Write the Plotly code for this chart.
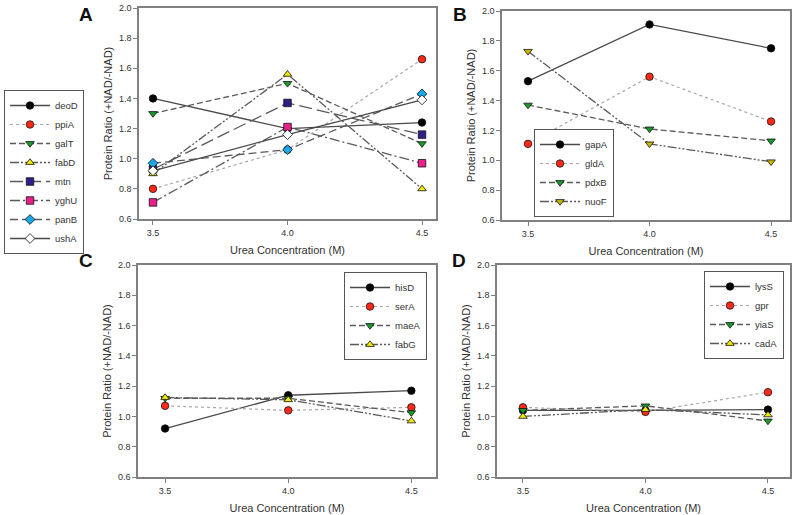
import plotly.graph_objects as go

# ---------------- data ----------------
urea = [3.5, 4.0, 4.5]

# Panel A
a_names = ["deoD", "ppiA", "galT", "fabD", "mtn", "yghU", "panB", "ushA"]
deoD = [1.40, 1.20, 1.24]
ppiA = [0.80, 1.06, 1.66]
galT = [1.30, 1.50, 1.10]
fabD = [0.90, 1.56, 0.80]
mtn = [0.93, 1.37, 1.16]
yghU = [0.71, 1.21, 0.97]
panB = [0.97, 1.06, 1.43]
ushA = [0.92, 1.16, 1.39]

# Panel B
b_names = ["gapA", "gldA", "pdxB", "nuoF"]
gapA = [1.53, 1.91, 1.75]
gldA = [1.11, 1.56, 1.26]
pdxB = [1.37, 1.21, 1.13]
nuoF = [1.73, 1.11, 0.99]

# Panel C
c_names = ["hisD", "serA", "maeA", "fabG"]
hisD = [0.92, 1.14, 1.17]
serA = [1.07, 1.04, 1.06]
maeA = [1.12, 1.12, 1.025]
fabG = [1.125, 1.11, 0.97]

# Panel D
d_names = ["lysS", "gpr", "yiaS", "cadA"]
lysS = [1.04, 1.04, 1.045]
gpr = [1.06, 1.03, 1.16]
yiaS = [1.04, 1.07, 0.97]
cadA = [1.00, 1.045, 1.01]

y_ticks = [0.6, 0.8, 1.0, 1.2, 1.4, 1.6, 1.8, 2.0]
x_ticks = [3.5, 4.0, 4.5]

# ---------------- styles ----------------
FONT = "Arial, Liberation Sans, sans-serif"
SOLID = dict(color="#4a4a4a", width=1.3, dash="solid")
DOT = dict(color="#a8a8a8", width=1.2, dash="dot")
DASH = dict(color="#5a5a5a", width=1.3, dash="6px,3px")
DADODO = dict(color="#5a5a5a", width=1.3, dash="9px,2px,2px,2px,2px,2px")
LONGDASH = dict(color="#5a5a5a", width=1.3, dash="13px,5px")
DASHDOT = dict(color="#5a5a5a", width=1.3, dash="10px,3px,2px,3px")
MEDDASH = dict(color="#5a5a5a", width=1.3, dash="8px,4px")

def mk(symbol, color):
    return dict(symbol=symbol, color=color, size=7.5, line=dict(color="#111111", width=0.8))

a_series = [deoD, ppiA, galT, fabD, mtn, yghU, panB, ushA]
a_styles = [
    (SOLID, mk("circle", "#000000")),
    (DOT, mk("circle", "#ff2a1a")),
    (DASH, mk("triangle-down", "#1a9a2a")),
    (DADODO, mk("triangle-up", "#f2ea00")),
    (LONGDASH, mk("square", "#2e1f8a")),
    (DASHDOT, mk("square", "#ec1e8c")),
    (MEDDASH, mk("diamond", "#1aa8e8")),
    (SOLID, mk("diamond", "#ffffff")),
]
b_series = [gapA, gldA, pdxB, nuoF]
b_styles = [
    (SOLID, mk("circle", "#000000")),
    (DOT, mk("circle", "#ff2a1a")),
    (DASH, mk("triangle-down", "#1a9a2a")),
    (DADODO, mk("triangle-down", "#c8b800")),
]
four_styles = [
    (SOLID, mk("circle", "#000000")),
    (DOT, mk("circle", "#ff2a1a")),
    (DASH, mk("triangle-down", "#1a9a2a")),
    (DADODO, mk("triangle-up", "#f2ea00")),
]

fig = go.Figure()

panels = [
    (a_names, a_series, a_styles, "x", "y", "legend"),
    (b_names, b_series, b_styles, "x2", "y2", "legend2"),
    (c_names, [hisD, serA, maeA, fabG], four_styles, "x3", "y3", "legend3"),
    (d_names, [lysS, gpr, yiaS, cadA], four_styles, "x4", "y4", "legend4"),
]
for names, series, styles, xa, ya, lg in panels:
    for name, vals, (ln, mkr) in zip(names, series, styles):
        fig.add_trace(go.Scatter(
            x=urea, y=vals, name=name, mode="lines+markers",
            line=ln, marker=mkr, xaxis=xa, yaxis=ya, legend=lg,
        ))

W, H = 800, 515

def fx(p):
    return p / W

def fy(p):
    return 1 - p / H

def dx(a, b):
    return [fx(a), fx(b)]

def dy(top, bottom):
    return [fy(bottom), fy(top)]

axis_common = dict(
    showline=True, mirror=True, linecolor="#808080", linewidth=1.5,
    ticks="outside", ticklen=4, tickcolor="#808080", tickwidth=1,
    showgrid=False, zeroline=False,
    tickfont=dict(family=FONT, size=9, color="#333333"),
)
xtitle = dict(text="Urea Concentration (M)", font=dict(family=FONT, size=11, color="#333333"), standoff=10)
ytitle = dict(text="Protein Ratio (+NAD/-NAD)", font=dict(family=FONT, size=11, color="#333333"), standoff=4)

geo = {
    "": (dx(139, 436), dy(8, 219), [3.448, 4.552]),
    "2": (dx(502, 790), dy(11, 220), [3.393, 4.578]),
    "3": (dx(138, 436), dy(265, 477), [3.39, 4.60]),
    "4": (dx(497, 790), dy(265, 477), [3.394, 4.59]),
}
layout = {}
for k, (xd, yd, xr) in geo.items():
    anchor_x = "x" + k if k else "x"
    anchor_y = "y" + k if k else "y"
    layout["xaxis" + k] = dict(axis_common, domain=xd, range=xr, tickvals=x_ticks,
                               tickformat=".1f", anchor=anchor_y, title=xtitle)
    layout["yaxis" + k] = dict(axis_common, domain=yd, range=[0.6, 2.0], tickvals=y_ticks,
                               tickformat=".1f", anchor=anchor_x, title=ytitle)

leg_common = dict(
    bgcolor="white", bordercolor="#555555", borderwidth=1,
    font=dict(family=FONT, size=9.5, color="#333333"),
    tracegroupgap=0, xref="paper", yref="paper", itemwidth=40,
)
layout["legend"] = dict(leg_common, x=fx(4), y=fy(172), xanchor="left", yanchor="middle")
layout["legend2"] = dict(leg_common, x=fx(534), y=fy(217), xanchor="left", yanchor="bottom")
layout["legend3"] = dict(leg_common, x=fx(427), y=fy(272), xanchor="right", yanchor="top")
layout["legend4"] = dict(leg_common, x=fx(784), y=fy(271), xanchor="right", yanchor="top")

letters = [("A", 86, 15), ("B", 460, 15), ("C", 86, 260), ("D", 459, 260)]
annotations = [
    dict(text="<b>%s</b>" % t, x=fx(px), y=fy(py), xref="paper", yref="paper", showarrow=False,
         font=dict(family=FONT, size=19, color="#111111"), xanchor="center", yanchor="middle")
    for t, px, py in letters
]

fig.update_layout(
    **layout,
    annotations=annotations,
    width=W, height=H,
    margin=dict(l=0, r=0, t=0, b=0, autoexpand=False),
    paper_bgcolor="white", plot_bgcolor="white",
    font=dict(family=FONT, color="#333333"),
    showlegend=True,
)
# remove the browser's default 8px body margin so the figure sits at the window corner
fig.write_html("out.html", config={"displayModeBar": False},
               post_script="document.body.style.margin='0';")
